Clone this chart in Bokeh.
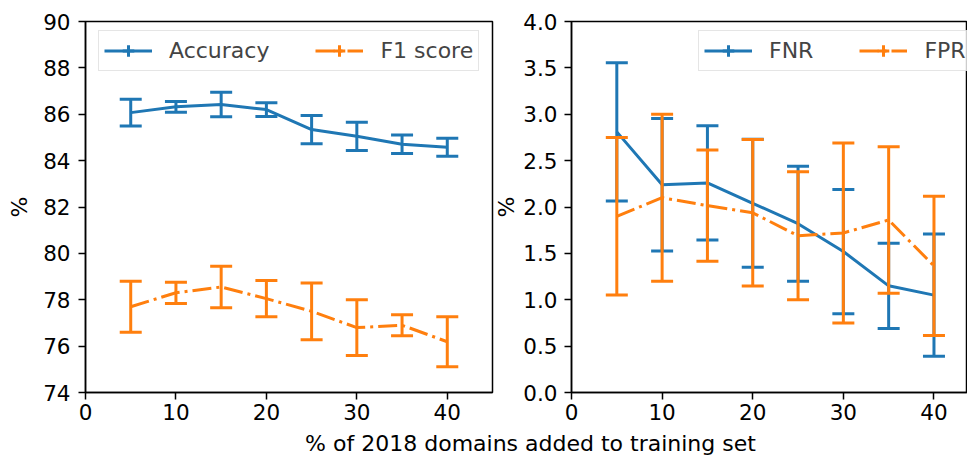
from bokeh.plotting import figure
from bokeh.layouts import row, column
from bokeh.models import (Range1d, Legend, LegendItem, ColumnDataSource, Label,
                          FixedTicker, NumeralTickFormatter, LinearAxis)
from bokeh.embed import file_html
from bokeh.resources import INLINE

# ---------------- data ----------------
pct_added = [5, 10, 15, 20, 25, 30, 35, 40]

acc_mean = [86.07, 86.32, 86.42, 86.20, 85.34, 85.05, 84.71, 84.58]
acc_err = [0.58, 0.23, 0.53, 0.30, 0.61, 0.61, 0.40, 0.39]

f1_mean = [77.70, 78.30, 78.55, 78.05, 77.50, 76.80, 76.90, 76.19]
f1_err = [1.10, 0.46, 0.90, 0.78, 1.22, 1.20, 0.45, 1.08]

fnr_mean = [2.81, 2.24, 2.26, 2.04, 1.82, 1.52, 1.15, 1.05]
fnr_err = [0.745, 0.715, 0.615, 0.69, 0.62, 0.67, 0.46, 0.66]

fpr_mean = [1.90, 2.10, 2.015, 1.937, 1.69, 1.72, 1.86, 1.365]
fpr_err = [0.85, 0.90, 0.60, 0.79, 0.69, 0.97, 0.79, 0.75]

x_ticks = [0, 10, 20, 30, 40]
left_y_ticks = [74, 76, 78, 80, 82, 84, 86, 88, 90]
right_y_ticks = [0.0, 0.5, 1.0, 1.5, 2.0, 2.5, 3.0, 3.5, 4.0]

BLUE = "#1f77b4"
ORANGE = "#ff7f0e"
FONT = "DejaVu Sans"
TICK_FS = "21.5px"
LABEL_FS = "22px"
LEG_FS = "22px"
LW = 3
CAP = 22
DASHDOT = "19 5 3 5"


def style(p, yticks):
    p.xaxis.ticker = FixedTicker(ticks=x_ticks)
    p.yaxis.ticker = FixedTicker(ticks=yticks)
    for ax in (p.xaxis[0], p.yaxis[0]):
        ax.major_label_text_font = FONT
        ax.major_label_text_font_size = TICK_FS
        ax.major_label_text_color = "black"
        ax.axis_label_text_font = FONT
        ax.axis_label_text_font_size = LABEL_FS
        ax.axis_label_text_font_style = "normal"
        ax.axis_label_text_color = "black"
        ax.axis_line_width = 1.5
        ax.major_tick_line_width = 1.5
        ax.major_tick_out = 7
        ax.major_tick_in = 0
        ax.minor_tick_out = 0
        ax.minor_tick_in = 0
    p.xaxis.major_label_standoff = 4
    p.yaxis.major_label_standoff = 8
    p.xgrid.visible = False
    p.ygrid.visible = False
    p.outline_line_color = "black"
    p.outline_line_width = 1.5
    p.outline_line_alpha = 1.0


def errseries(p, mean, err, color, dash):
    src = ColumnDataSource(dict(
        x=pct_added,
        y=mean,
        lo=[m - e for m, e in zip(mean, err)],
        hi=[m + e for m, e in zip(mean, err)],
    ))
    p.segment(x0="x", y0="lo", x1="x", y1="hi", source=src,
              line_color=color, line_width=LW)
    p.scatter(x="x", y="lo", source=src, marker="dash", size=CAP,
              line_color=color, line_width=LW)
    p.scatter(x="x", y="hi", source=src, marker="dash", size=CAP,
              line_color=color, line_width=LW)
    line = p.line(x="x", y="y", source=src, line_color=color, line_width=LW,
                  line_dash=dash)
    # zero-size marker: invisible on the plot, gives the error-bar tick in the legend
    leg = p.scatter(x="x", y="y", source=src, marker="cross", size=0,
                    line_color=color, line_width=LW)
    return [line, leg]


def make_legend(items, loc):
    return Legend(items=items, orientation="horizontal", location=loc,
                  label_text_font=FONT, label_text_font_size=LEG_FS,
                  glyph_width=48, glyph_height=29, label_standoff=17,
                  spacing=46, padding=5, margin=0,
                  border_line_color="#cccccc", border_line_width=1.5,
                  background_fill_alpha=0.8)


# ---------------- left panel ----------------
p1 = figure(width=520, height=428, x_range=Range1d(0, 45), y_range=Range1d(74, 90),
            output_backend="svg", toolbar_location=None,
            min_border_left=85, min_border_right=28, min_border_top=21,
            min_border_bottom=36)
style(p1, left_y_ticks)
p1.yaxis.axis_label = "%"
p1.yaxis.axis_label_standoff = 8
r_acc = errseries(p1, acc_mean, acc_err, BLUE, "solid")
r_f1 = errseries(p1, f1_mean, f1_err, ORANGE, DASHDOT)
p1.add_layout(make_legend([LegendItem(label="Accuracy", renderers=r_acc),
                           LegendItem(label="F1 score", renderers=r_f1)],
                          (13, 321)))

# y-axis title of the right panel: it sits in the gap between the panels,
# so it is carried by a bare (tick-less) axis on the right of the left panel
title_axis = LinearAxis(ticker=FixedTicker(ticks=[]), axis_label="%",
                        axis_label_text_font=FONT, axis_label_text_font_size=LABEL_FS,
                        axis_label_text_font_style="normal",
                        axis_label_text_color="black",
                        axis_label_standoff=0, axis_line_color=None,
                        major_tick_out=0, major_tick_in=0,
                        minor_tick_out=0, minor_tick_in=0,
                        major_label_text_font_size="0px")
p1.add_layout(title_axis, "right")

# ---------------- right panel ----------------
p2 = figure(width=447, height=428, x_range=Range1d(0, 43.7), y_range=Range1d(0, 4),
            output_backend="svg", toolbar_location=None,
            min_border_left=50, min_border_right=0, min_border_top=21,
            min_border_bottom=36)
style(p2, right_y_ticks)
p2.yaxis.formatter = NumeralTickFormatter(format="0.0")
p2.yaxis.major_label_standoff = 7
r_fnr = errseries(p2, fnr_mean, fnr_err, BLUE, "solid")
r_fpr = errseries(p2, fpr_mean, fpr_err, ORANGE, DASHDOT)
p2.add_layout(make_legend([LegendItem(label="FNR", renderers=r_fnr),
                           LegendItem(label="FPR", renderers=r_fpr)],
                          (127, 321)))

# ---------------- shared x label ----------------
p3 = figure(width=967, height=30, x_range=Range1d(0, 967), y_range=Range1d(0, 30),
            output_backend="svg", toolbar_location=None,
            min_border=0)
p3.axis.visible = False
p3.grid.visible = False
p3.outline_line_color = None
p3.add_layout(Label(x=530, y=15, text="% of 2018 domains added to training set",
                    text_font=FONT, text_font_size=LABEL_FS, text_align="center",
                    text_baseline="middle", text_color="black"))

layout = column(row(p1, p2), p3)
open("out.html", "w").write(file_html(layout, INLINE))
